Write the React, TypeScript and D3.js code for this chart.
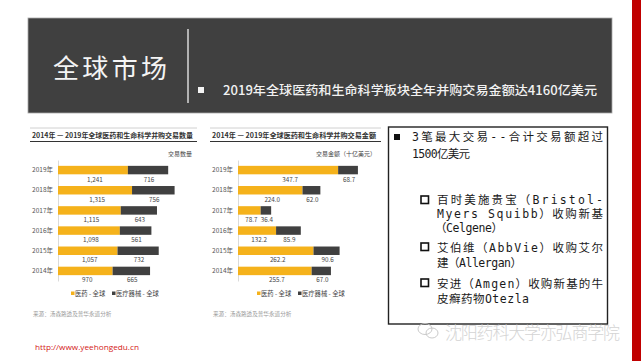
import React, { useRef, useEffect } from "react";
import * as d3 from "d3";

const years = ["2019年", "2018年", "2017年", "2016年", "2015年", "2014年"];
const pharmaCount = [1241, 1315, 1115, 1098, 1057, 970];
const deviceCount = [716, 756, 643, 561, 732, 665];
const pharmaValue = [347.7, 224.0, 78.7, 132.2, 262.2, 255.7];
const deviceValue = [68.7, 62.0, 36.4, 85.9, 90.6, 67.0];
const seriesNames = ["医药 - 全球", "医疗器械 - 全球"];

const ORANGE = "#F5B21B";
const DARK = "#404040";
const CJK = "'Noto Sans CJK SC', sans-serif";
const BOX_FONT = "'DejaVu Sans Mono', 'Noto Sans CJK SC', monospace";

const Chart = ({ x0, x1, axisX, xMax, xWidth, pharma, device, fmt, title, titleLen, unit, legendX }) => {
  const axisRef = useRef(null);
  const x = d3.scaleLinear().domain([0, xMax]).range([axisX, axisX + xWidth]);
  const y = d3.scaleBand().domain(years).range([160, 281]).paddingInner(0.58).paddingOuter(0.29);

  useEffect(() => {
    const g = d3.select(axisRef.current);
    g.selectAll("*").remove();
    g.call(d3.axisLeft(y).tickSize(0).tickPadding(5));
    g.select(".domain").attr("stroke", "#d0d0d0").attr("stroke-width", 0.8);
    g.selectAll("text")
      .attr("font-family", CJK)
      .attr("font-size", 6.5)
      .attr("fill", "#555");
  }, []);

  return (
    <g>
      <line x1={x0} x2={x1} y1={128} y2={128} stroke="#c4c4c4" strokeWidth={0.8} />
      <text x={x0 + 2} y={138} fontFamily={CJK} fontWeight="bold" fontSize={7} fill="#333"
        textLength={titleLen} lengthAdjust="spacingAndGlyphs">{title}</text>
      <line x1={x0} x2={x1} y1={141.5} y2={141.5} stroke="#333" strokeWidth={1.1} />
      <text x={x1 - 5} y={156} textAnchor="end" fontFamily={CJK} fontSize={6} fill="#444">{unit}</text>
      <g ref={axisRef} transform={`translate(${axisX},0)`} />
      {years.map((yr, i) => {
        const yy = y(yr);
        const bw = y.bandwidth();
        const a = x(pharma[i]);
        const b = x(pharma[i] + device[i]);
        return (
          <g key={yr}>
            <rect x={axisX} y={yy} width={a - axisX} height={bw} fill={ORANGE} />
            <rect x={a} y={yy} width={b - a} height={bw} fill={DARK} />
            <text x={(axisX + a) / 2 + 2} y={yy + bw / 2 + 11.5} textAnchor="middle"
              fontFamily={CJK} fontSize={6.3} fill="#444">{fmt(pharma[i])}</text>
            <text x={(a + b) / 2 + 1} y={yy + bw / 2 + 11.5} textAnchor="middle"
              fontFamily={CJK} fontSize={6.3} fill="#444">{fmt(device[i])}</text>
          </g>
        );
      })}
      <rect x={legendX} y={291.5} width={3.5} height={3.5} fill={ORANGE} />
      <text x={legendX + 4} y={295.5} fontFamily={CJK} fontSize={6.3} fill="#444">{seriesNames[0]}</text>
      <rect x={legendX + 41} y={291.5} width={3.5} height={3.5} fill={DARK} />
      <text x={legendX + 45} y={295.5} fontFamily={CJK} fontSize={6.3} fill="#444">{seriesNames[1]}</text>
      <text x={x0 + 3} y={316} fontFamily={CJK} fontSize={5.6} fill="#9a9a9a">来源：汤森路透及普华永道分析</text>
    </g>
  );
};

const boxLines = [
  { t: "3笔最大交易--合计交易额超过", x: 412, y: 141, len: 191 },
  { t: "1500亿美元", x: 412, y: 157.5, len: 58 },
  { t: "百时美施贵宝（Bristol-", x: 437, y: 204, len: 166 },
  { t: "Myers Squibb）收购新基", x: 437, y: 218, len: 166 },
  { t: "（Celgene）", x: 435, y: 232, len: 68 },
  { t: "艾伯维（AbbVie）收购艾尔", x: 437, y: 251.5, len: 166 },
  { t: "建（Allergan）", x: 437, y: 267, len: 85 },
  { t: "安进（Amgen）收购新基的牛", x: 437, y: 287.5, len: 166 },
  { t: "皮癣药物Otezla", x: 437, y: 303, len: 92 },
];
const subBulletY = [200, 247, 283];

export default function App() {
  return (
    <svg width={641} height={361} style={{ position: "absolute", left: 0, top: 0, background: "#fff" }}>
      <rect x={0} y={0} width={641} height={361} fill="#fff" />
      <rect x={632} y={0} width={9} height={361} fill="#C00000" />

      <rect x={28} y={18} width={584} height={95} fill="#404040" stroke="#a8a8a8" strokeWidth={0.8} />
      <text x={53} y={78} fontFamily={CJK} fontSize={26} fill="#f4f4f4" textLength={114}
        lengthAdjust="spacing">全球市场</text>
      <line x1={188} x2={188} y1={29} y2={103} stroke="#d8d8d8" strokeWidth={1.5} />
      <rect x={198} y={87} width={6} height={6} fill="#f4f4f4" />
      <text x={223} y={95} fontFamily={CJK} fontWeight={500} fontSize={12.5} fill="#f2f2f2"
        textLength={374} lengthAdjust="spacingAndGlyphs">2019年全球医药和生命科学板块全年并购交易金额达4160亿美元</text>

      <Chart x0={30} x1={197} axisX={58} xMax={2200} xWidth={2200 * 0.0563}
        pharma={pharmaCount} device={deviceCount} fmt={d3.format(",")}
        title="2014年 — 2019年全球医药和生命科学并购交易数量" titleLen={161}
        unit="交易数量" legendX={71} />
      <Chart x0={210} x1={381} axisX={238} xMax={450} xWidth={450 * 0.288}
        pharma={pharmaValue} device={deviceValue} fmt={d3.format(".1f")}
        title="2014年 — 2019年全球医药和生命科学并购交易金额" titleLen={164}
        unit="交易金额（十亿美元）" legendX={257} />

      <rect x={388.5} y={127} width={219} height={197} fill="#fff" stroke="#222" strokeWidth={1.4} />
      <rect x={394} y={134} width={6} height={6} fill="#111" />
      {subBulletY.map((by) => (
        <rect key={by} x={421} y={by - 4} width={7.5} height={7.5} fill="none" stroke="#111" strokeWidth={1.6} />
      ))}
      {boxLines.map((l) => (
        <text key={l.t} x={l.x} y={l.y} fontFamily={BOX_FONT} fontSize={11.5} fill="#1a1a1a"
          textLength={l.len} lengthAdjust="spacing">{l.t}</text>
      ))}

      <g fill="none" stroke="#c4c4c4" strokeWidth={0.9}>
        <ellipse cx={425} cy={329} rx={7} ry={5.5} />
        <ellipse cx={432} cy={333} rx={6} ry={5} />
      </g>
      <text x={445} y={339} fontFamily={CJK} fontWeight={300} fontSize={17} fill="#d4d4d4"
        textLength={175} lengthAdjust="spacing">沈阳药科大学亦弘商学院</text>

      <text x={35} y={350} fontFamily="'Open Sans', sans-serif" fontSize={8} fill="#d42020"
        textLength={104} lengthAdjust="spacingAndGlyphs">http://www.yeehongedu.cn</text>
    </svg>
  );
}
